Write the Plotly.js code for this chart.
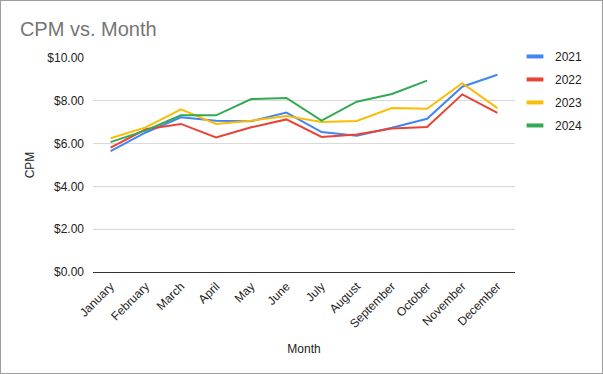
<!DOCTYPE html>
<html><head><meta charset="utf-8">
<script src="https://cdn.plot.ly/plotly-3.0.1.min.js"></script>
<style>html,body{margin:0;padding:0;background:#fff}#chart{width:603px;height:374px;outline:1px solid #9e9e9e;outline-offset:-1px}</style>
</head><body><div id="chart"></div>
<script>
const months = ["January","February","March","April","May","June","July","August","September","October","November","December"];
const cpm2021 = [5.65,6.52,7.23,7.07,7.05,7.45,6.54,6.37,6.74,7.16,8.66,9.22];
const cpm2022 = [5.81,6.67,6.92,6.29,6.76,7.13,6.31,6.43,6.71,6.78,8.30,7.44];
const cpm2023 = [6.25,6.76,7.60,6.92,7.07,7.29,7.01,7.06,7.66,7.63,8.82,7.66];
const cpm2024 = [6.07,6.62,7.32,7.32,8.08,8.13,7.07,7.96,8.32,8.94];
const seriesNames = ["2021","2022","2023","2024"];
const seriesData = [cpm2021,cpm2022,cpm2023,cpm2024];
const colors = ["#4285f4","#ea4335","#fbbc04","#34a853"];

const traces = seriesData.map((vals,i)=>({
  x: months.slice(0, vals.length), y: vals, name: seriesNames[i],
  type:'scatter', mode:'lines', line:{color:colors[i], width:2},
  showlegend:false, hoverinfo:'skip'
}));
// legend entries (short thick dash like the reference)
seriesNames.forEach((n,i)=>traces.push({
  x:[null], y:[null], name:n, type:'scatter', mode:'markers',
  marker:{symbol:'line-ew-open', size:12, color:colors[i], line:{color:colors[i], width:4}},
  legendgroup:'g'+i, showlegend:true
}));

const layout = {
  width:603, height:374,
  margin:{l:93, r:88, t:58, b:102},
  paper_bgcolor:'rgba(0,0,0,0)', plot_bgcolor:'#fff',
  font:{family:'Liberation Sans, Arial, sans-serif', size:12, color:'#222'},
  title:{text:'CPM vs. Month', x:0.033, xanchor:'left', y:0.905, yanchor:'bottom',
         font:{size:20, color:'#757575', family:'Liberation Sans, Arial, sans-serif'}},
  xaxis:{type:'category', range:[-0.5,11.5], tickangle:-45, showgrid:false, ticks:'', ticklabelstandoff:4,
         tickfont:{size:12, color:'#222'},
         title:{text:'Month', font:{size:12, color:'#222'}, standoff:14}, automargin:false},
  yaxis:{range:[0,10], dtick:2, tickprefix:'$', tickformat:'.2f', gridcolor:'#d9d9d9', gridwidth:1,
         zeroline:true, zerolinecolor:'#333', zerolinewidth:1, ticks:'', ticklabelstandoff:8,
         tickfont:{size:12, color:'#222'},
         title:{text:'CPM', font:{size:12, color:'#222'}, standoff:10}, automargin:false},
  showlegend:true,
  legend:{x:1.0, xanchor:'left', y:1.075, yanchor:'top', traceorder:'grouped', tracegroupgap:4,
          itemwidth:30, font:{size:12, color:'#222'}, bgcolor:'rgba(0,0,0,0)'}
};
Plotly.newPlot('chart', traces, layout, {displayModeBar:false, staticPlot:true});
</script></body></html>
